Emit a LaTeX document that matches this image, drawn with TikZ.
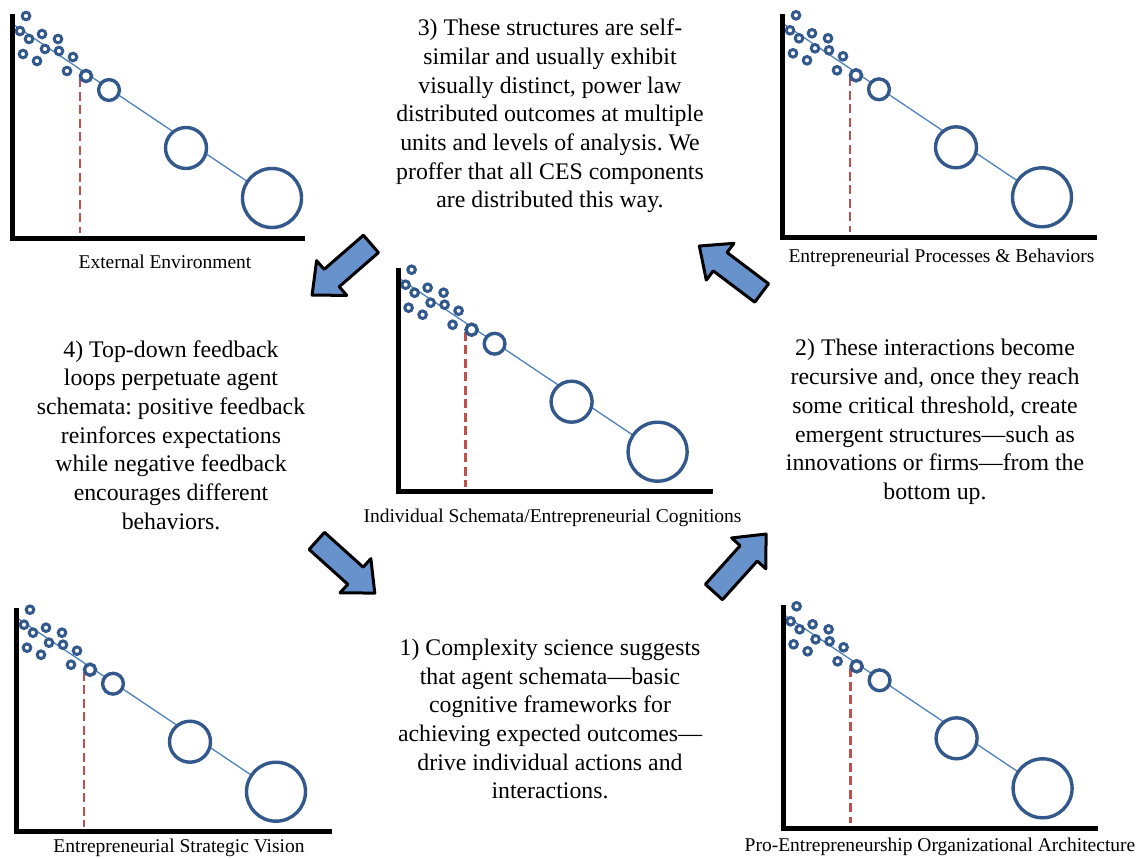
\documentclass[tikz,border=0pt]{standalone}
\usepackage{fontspec}
\setmainfont{Liberation Serif}
\frenchspacing
\definecolor{circ}{RGB}{50,88,140}
\definecolor{trend}{RGB}{79,129,189}
\definecolor{cutc}{RGB}{192,80,77}
\definecolor{arrfill}{RGB}{103,146,204}
\tikzset{
  trendline/.style={trend, line width=1.3pt},
  cutline/.style={cutc, line width=2.6pt, dash pattern=on 9pt off 4.5pt},
  dotc/.style={circ, line width=3pt, fill=white},
  bubble/.style={circ, line width=3.4pt, fill=white},
  axisline/.style={black, line width=5pt, line cap=rect, line join=miter},
  blockarrow/.style={fill=arrfill, draw=black, line width=3pt, line join=round},
  maintext/.style={font=\fontsize{23.8}{28.7}\selectfont, align=center, inner sep=0pt},
  chartlabel/.style={font=\fontsize{19.5}{23}\selectfont, inner sep=0pt},
  pics/chart/.style={code={
    \draw[trendline] (0,-214) -- (259.3,-40);
    \draw[cutline] (67.3,-160) -- (67.3,-5);
    \foreach \p in {(13.3,-222),(7.3,-207),(16.3,-199),(29.3,-204),(45.3,-199),(32.3,-189),(46.3,-187),(60.3,-181),(10.3,-184),(24.3,-177),(54.3,-167)}
      \draw[dotc] \p circle[radius=3.8];
    \draw[bubble] (73.3,-162) circle[radius=5.6];
    \draw[bubble] (96.3,-148) circle[radius=10.4];
    \draw[bubble] (173.3,-90) circle[radius=20.5];
    \draw[bubble] (259.3,-40) circle[radius=29.5];
    \draw[axisline] (0,-221) -- (0,0) -- (#1,0);
  }},
}
\newcommand{\blockarr}{(-39,-11.5) -- (13,-11.5) -- (13,-23) -- (39,0) -- (13,23) -- (13,11.5) -- (-39,11.5) -- cycle}
\begin{document}
\begin{tikzpicture}[x=1pt,y=-1pt]
\fill[white] (0,0) rectangle (1146,859);
\useasboundingbox (0,0) rectangle (1146,859);

% charts
\pic at (12.7,238) {chart=290};
\pic at (398.3,491.7) {chart=312};
\pic at (782.7,237.3) {chart=312};
\pic at (16.7,831.7) {chart=313};
\pic at (783.3,828.3) {chart=312};

% chart labels
\node[chartlabel] (lEE) at (165,262) {External Environment};
\node[chartlabel] (lIS) at (552.5,518) {Individual Schemata/Entrepreneurial Cognitions};
\node[chartlabel] (lEP) at (941.5,258) {Entrepreneurial Processes \& Behaviors};
\node[chartlabel] (lSV) at (179,848) {Entrepreneurial Strategic Vision};
\node[chartlabel] (lOA) at (940,847) {Pro-Entrepreneurship Organizational Architecture};

% block arrows
\begin{scope}[shift={(341.5,269.5)}, rotate=221] \draw[blockarrow] \blockarr; \end{scope}
\begin{scope}[shift={(730.5,269.5)}, rotate=143] \draw[blockarrow] \blockarr; \end{scope}
\begin{scope}[shift={(345.8,567)}, rotate=-42] \draw[blockarrow] \blockarr; \end{scope}
\begin{scope}[shift={(740,563)}, rotate=48] \draw[blockarrow] \blockarr; \end{scope}

% texts
\node[maintext] (t3) at (550,116) {3) These structures are self-\\similar and usually exhibit\\visually distinct, power law\\distributed outcomes at multiple\\units and levels of analysis. We\\proffer that all CES components\\are distributed this way.};
\node[maintext] (t4) at (171,435) {4) Top-down feedback\\loops perpetuate agent\\schemata: positive feedback\\reinforces expectations\\while negative feedback\\encourages different\\behaviors.};
\node[maintext] (t2) at (935,422) {2) These interactions become\\recursive and, once they reach\\some critical threshold, create\\emergent structures---such as\\innovations or firms---from the\\bottom up.};
\node[maintext] (t1) at (550,719) {1) Complexity science suggests\\that agent schemata---basic\\cognitive frameworks for\\achieving expected outcomes---\\drive individual actions and\\interactions.};
\end{tikzpicture}
\end{document}
